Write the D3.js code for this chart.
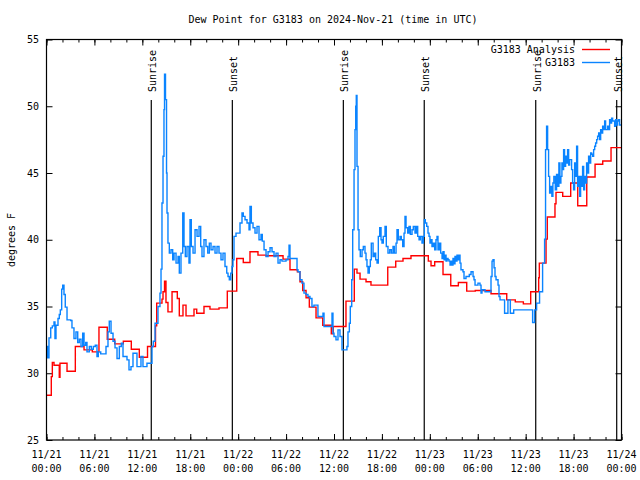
<!DOCTYPE html>
<html><head><meta charset="utf-8">
<script src="https://cdn.jsdelivr.net/npm/d3@7"></script>
<style>
body{margin:0;background:#fff}
text{font-family:"DejaVu Sans Mono",monospace;font-size:10px;fill:#000}
</style>
</head><body><svg id="c" width="640" height="480"></svg>
<script>
const chartTitle = "Dew Point for G3183 on 2024-Nov-21 (time in UTC)";
const yLabel = "degrees F";
const seriesNames = ["G3183 Analysis", "G3183"];
const yTicks = [25, 30, 35, 40, 45, 50, 55];
// hours since 2024-11-21 00:00 UTC
const sunHours = [13.12, 23.27, 37.17, 47.3, 61.26, 71.4];
const sunLabels = ["Sunrise", "Sunset", "Sunrise", "Sunset", "Sunrise", "Sunset"];

const anaHours = [0,0.60,0.73,0.94,1.60,1.69,2.57,3.61,4.70,5.74,6.57,7.61,8.54,9.62,10.62,11.62,12.65,13.65,13.80,14.46,14.59,14.78,14.96,15.21,15.72,16.38,16.63,17.09,17.47,18.47,18.81,19.72,20.47,21.60,22.64,23.82,24.64,25.48,26.48,27.49,29.62,30.49,31.41,31.74,32.08,32.50,32.91,33.75,34.59,35.66,35.91,37.50,38.54,38.88,39.26,40.01,40.63,42.73,43.73,44.64,45.64,47.81,48.15,48.61,49.65,50.62,51.57,52.62,53.69,55.66,57.63,58.70,59.71,60.63,61.63,61.71,62.55,62.71,63.67,63.80,64.64,65.64,66.52,67.65,68.69,69.65,70.69,72];
const anaDew = [28.35,29.75,30.8,30.6,29.7,30.75,30.15,32.0,31.75,31.6,33.45,32.55,32.2,32.4,31.8,31.2,32.0,33.55,35.25,35.55,36.1,36.9,35.3,34.6,36.1,35.6,34.3,35.1,34.3,34.8,34.5,35.0,34.8,34.9,36.15,38.6,38.3,39.1,38.85,38.8,38.55,37.75,37.6,36.85,36.2,35.65,34.95,34.15,33.6,32.95,33.5,35.4,37.8,37.5,37.05,36.85,36.6,37.95,38.4,38.6,38.8,38.4,38.05,38.35,37.4,36.55,36.8,36.15,36.2,35.95,35.5,35.35,35.2,36.1,37.15,38.25,40.05,41.7,42.7,43.55,43.25,44.25,42.55,44.7,45.65,45.9,46.9,46.9];

const obsHours = [0,0.13,0.31,0.53,0.73,0.94,1.06,1.19,1.44,1.60,1.73,1.90,2.03,2.19,2.35,2.57,3.03,3.19,3.44,3.69,3.91,4.11,4.32,4.53,4.70,4.91,5.07,5.36,5.61,5.86,6.11,6.32,6.49,6.79,7.20,7.45,7.70,7.86,8.08,8.33,8.58,8.83,9.12,9.37,9.58,10.08,10.33,10.58,10.83,11.08,11.33,11.62,11.83,12.08,12.58,12.96,13.21,13.37,13.59,13.96,14.21,14.34,14.46,14.59,14.71,14.78,14.90,15.03,15.09,15.21,15.38,15.59,15.80,15.97,16.22,16.47,16.63,16.84,17.06,17.22,17.38,17.59,17.84,17.97,18.13,18.35,18.60,18.85,19.10,19.31,19.47,19.72,19.97,20.19,20.39,20.60,20.85,21.10,21.35,21.60,21.85,22.10,22.35,22.57,22.73,22.89,23.07,23.23,23.35,23.48,23.73,23.98,24.23,24.48,24.64,24.86,25.11,25.36,25.48,25.65,25.86,26.11,26.36,26.61,26.86,27.02,27.24,27.49,27.74,27.99,28.24,28.49,28.74,28.99,29.24,29.49,29.99,30.24,30.37,30.49,31.24,31.37,31.49,31.74,31.99,32.24,32.49,32.74,32.99,33.24,33.49,33.99,34.62,34.75,35.62,35.75,35.87,36.00,36.25,36.50,36.75,37.00,37.62,37.75,37.92,38.04,38.22,38.34,38.51,38.63,38.72,38.79,38.88,39.01,39.13,39.29,39.51,39.67,39.88,40.01,40.13,40.26,40.42,40.55,40.67,40.89,41.05,41.22,41.39,41.55,41.72,41.89,42.01,42.17,42.39,42.55,42.76,42.98,43.18,43.39,43.55,43.77,43.89,44.05,44.27,44.43,44.60,44.77,44.89,45.02,45.23,45.39,45.56,45.77,45.93,46.14,46.31,46.48,46.65,46.81,47.02,47.18,47.31,47.43,47.61,47.77,47.90,48.02,48.15,48.27,48.44,48.61,48.77,48.90,49.02,49.19,49.36,49.53,49.65,49.78,49.90,50.03,50.15,50.28,50.40,50.53,50.65,50.78,50.90,51.03,51.15,51.28,51.40,51.53,51.65,51.78,51.90,52.15,52.28,52.53,52.94,53.16,53.41,53.53,53.66,54.03,54.28,54.41,54.53,54.91,55.54,55.66,55.79,55.91,56.04,56.16,56.29,56.54,56.66,56.79,57.29,57.36,57.78,58.08,58.50,60.66,60.87,61.12,61.37,61.74,62.12,62.37,62.49,62.62,62.75,62.87,63.00,63.12,63.28,63.41,63.53,63.71,63.87,64.00,64.16,64.29,64.41,64.54,64.66,64.75,64.87,65.00,65.12,65.25,65.38,65.50,65.63,65.75,65.88,66.00,66.13,66.25,66.38,66.50,66.63,66.76,66.88,67.01,67.13,67.26,67.38,67.51,67.63,67.76,67.88,68.01,68.14,68.26,68.39,68.51,68.64,68.76,68.89,69.01,69.14,69.26,69.39,69.51,69.64,69.76,69.89,70.01,70.26,70.39,70.51,70.64,70.76,70.89,71.14,71.26,71.39,71.51,71.64,71.76,72];
const obsDew = [32.0,31.15,32.65,33.4,33.55,33.85,32.6,33.6,34.1,34.4,34.75,36.3,36.6,35.9,34.95,34.0,33.95,33.4,32.6,33.1,32.3,32.55,32.0,33.0,32.1,32.3,31.6,32.0,31.8,32.0,32.1,31.25,31.6,31.45,31.45,32.0,33.1,33.9,33.0,32.4,31.9,31.1,32.0,32.25,31.25,31.0,30.25,30.5,31.5,31.5,30.5,30.5,31.25,30.5,30.75,30.75,32.0,32.4,33.75,35.0,36.0,37.8,42.75,46.25,49.75,52.4,50.5,45.0,42.0,39.75,39.0,39.25,38.5,39.0,38.25,38.75,37.5,39.0,42.0,39.5,38.75,39.5,38.25,41.5,39.5,39.0,40.75,40.25,41.0,39.5,38.75,40.0,39.5,39.0,39.75,39.25,39.5,39.0,39.5,39.0,38.5,39.0,38.0,37.5,37.25,37.0,37.5,38.0,38.5,40.25,40.5,40.5,41.25,42.0,41.75,41.5,41.25,40.75,42.5,41.25,40.9,40.5,41.0,40.0,40.4,39.9,39.25,38.75,39.1,39.4,39.1,38.75,39.0,38.25,38.5,38.4,38.5,38.75,39.6,38.6,38.6,37.75,37.6,37.0,36.75,36.0,35.9,35.75,35.6,35.0,35.1,34.25,34.5,33.5,33.5,34.5,33.0,32.75,32.5,33.25,32.75,31.75,32.0,33.1,33.75,35.0,37.0,40.75,45.25,48.25,50.0,50.8,45.5,40.75,39.25,38.75,39.25,39.5,39.0,38.5,38.0,37.5,38.0,38.5,39.75,38.75,39.0,38.5,38.25,40.25,40.9,40.0,39.75,40.25,41.0,39.5,39.0,39.25,39.0,39.5,39.0,39.75,40.75,40.0,40.25,40.0,39.5,40.5,41.75,40.9,40.5,41.0,40.4,40.75,41.0,40.5,41.0,40.25,40.0,40.25,39.75,40.25,41.5,41.25,41.0,40.5,40.25,39.75,40.0,39.5,39.75,39.25,40.0,40.25,39.25,39.75,39.0,38.6,39.1,38.5,38.85,38.4,38.6,38.5,38.4,38.1,38.4,38.1,38.6,38.2,38.75,38.4,38.85,38.5,38.85,38.25,37.75,37.6,37.1,37.25,37.4,37.6,37.25,37.0,36.6,36.75,36.6,36.0,36.25,36.1,36.1,37.25,38.4,38.5,37.9,37.25,37.0,36.6,35.75,35.5,35.5,34.5,35.5,34.5,34.75,34.75,33.8,34.75,35.25,36.1,38.25,40.05,46.75,48.5,46.75,44.75,43.5,44.0,43.25,44.25,44.75,43.75,44.9,44.0,45.75,44.25,44.75,45.75,45.25,46.75,45.5,46.25,45.75,46.75,45.6,46.0,46.0,45.25,44.25,43.75,45.75,44.75,47.0,44.0,44.75,43.25,44.75,44.0,45.5,43.75,44.75,44.25,45.75,45.0,46.25,45.75,46.5,46.4,46.25,46.75,47.0,47.25,47.5,47.75,48.0,47.5,48.25,48.0,48.5,48.25,48.9,48.25,48.5,48.25,49.0,48.75,49.1,48.9,48.5,49.0,48.6,48.9,49.0,48.6,48.6];

const svg = d3.select("#c");
const L = 46.5, R = 621.5, T = 39.5, B = 440;
const t0 = Date.UTC(2024, 10, 21);
const toDate = h => new Date(t0 + h * 3600e3);
const x = d3.scaleUtc().domain([toDate(0), toDate(72)]).range([L, R]);
const y = d3.scaleLinear().domain([25, 55]).range([B, T]);

svg.append("rect").attr("width", 640).attr("height", 480).attr("fill", "#fff");

// ticks
const majorX = d3.utcHour.every(6).range(toDate(0), toDate(72.01));
const minorX = d3.utcHour.every(2).range(toDate(0), toDate(72.01));
function axisStyle(g){ g.select(".domain").remove(); g.selectAll("text").remove(); g.selectAll("line").attr("stroke","#000").attr("stroke-width",1); }
svg.append("g").attr("transform",`translate(0,${B})`).call(d3.axisBottom(x).tickValues(minorX).tickSize(-3)).call(axisStyle);
svg.append("g").attr("transform",`translate(0,${B})`).call(d3.axisBottom(x).tickValues(majorX).tickSize(-6)).call(axisStyle);
svg.append("g").attr("transform",`translate(0,${T})`).call(d3.axisTop(x).tickValues(minorX).tickSize(-3)).call(axisStyle);
svg.append("g").attr("transform",`translate(0,${T})`).call(d3.axisTop(x).tickValues(majorX).tickSize(-6)).call(axisStyle);
svg.append("g").attr("transform",`translate(${L},0)`).call(d3.axisLeft(y).tickValues(yTicks).tickSize(-6)).call(axisStyle);
svg.append("g").attr("transform",`translate(${R},0)`).call(d3.axisRight(y).tickValues(yTicks).tickSize(-6)).call(axisStyle);

// tick labels
svg.append("g").selectAll("text").data(yTicks).join("text")
  .attr("x", 39).attr("y", d => y(d) + 3.5).attr("text-anchor","end").text(d => d);
const fd = d3.utcFormat("%m/%d"), ft = d3.utcFormat("%H:%M");
const xl = svg.append("g").selectAll("text").data(majorX).join("text")
  .attr("text-anchor","middle").attr("transform", d => `translate(${x(d)},0)`);
xl.append("tspan").attr("x",0).attr("y",458).text(d => fd(d));
xl.append("tspan").attr("x",0).attr("y",472).text(d => ft(d));

// title & y label
svg.append("text").attr("x", 333).attr("y", 23).attr("text-anchor","middle").text(chartTitle);
svg.append("text").attr("transform","translate(15,240) rotate(-90)").attr("text-anchor","middle").text(yLabel);

// sunrise/sunset
const sun = svg.append("g");
sun.selectAll("line").data(sunHours).join("line")
  .attr("x1", d => x(toDate(d))).attr("x2", d => x(toDate(d)))
  .attr("y1", 100).attr("y2", B).attr("stroke","#000").attr("stroke-width",1.2);
sun.selectAll("text").data(sunHours).join("text")
  .attr("transform", d => `translate(${x(toDate(d)) + 5},92) rotate(-90)`)
  .text((d,i) => sunLabels[i]);

// series
const anaData = anaHours.map((h,i) => ({t: toDate(h), v: anaDew[i]}));
const obsData = obsHours.map((h,i) => ({t: toDate(h), v: obsDew[i]}));
const line = d3.line().x(d => x(d.t)).y(d => y(d.v)).curve(d3.curveStepAfter);
svg.append("path").datum(anaData).attr("d", line).attr("fill","none").attr("stroke","#ff0000").attr("stroke-width",1.4);
svg.append("path").datum(obsData).attr("d", line).attr("fill","none").attr("stroke","#0a84ff").attr("stroke-width",1.4);

// border
svg.append("rect").attr("x", L).attr("y", T).attr("width", R - L).attr("height", B - T)
  .attr("fill","none").attr("stroke","#000").attr("stroke-width",1.2);

// legend
const colors = ["#ff0000", "#0a84ff"];
const lg = svg.append("g");
seriesNames.forEach((n,i) => {
  const yy = 49.5 + i * 13;
  lg.append("text").attr("x", 575).attr("y", yy + 3.5).attr("text-anchor","end").text(n);
  lg.append("line").attr("x1", 582).attr("x2", 610).attr("y1", yy).attr("y2", yy)
    .attr("stroke", colors[i]).attr("stroke-width", 1.4);
});
</script>
</body></html>
